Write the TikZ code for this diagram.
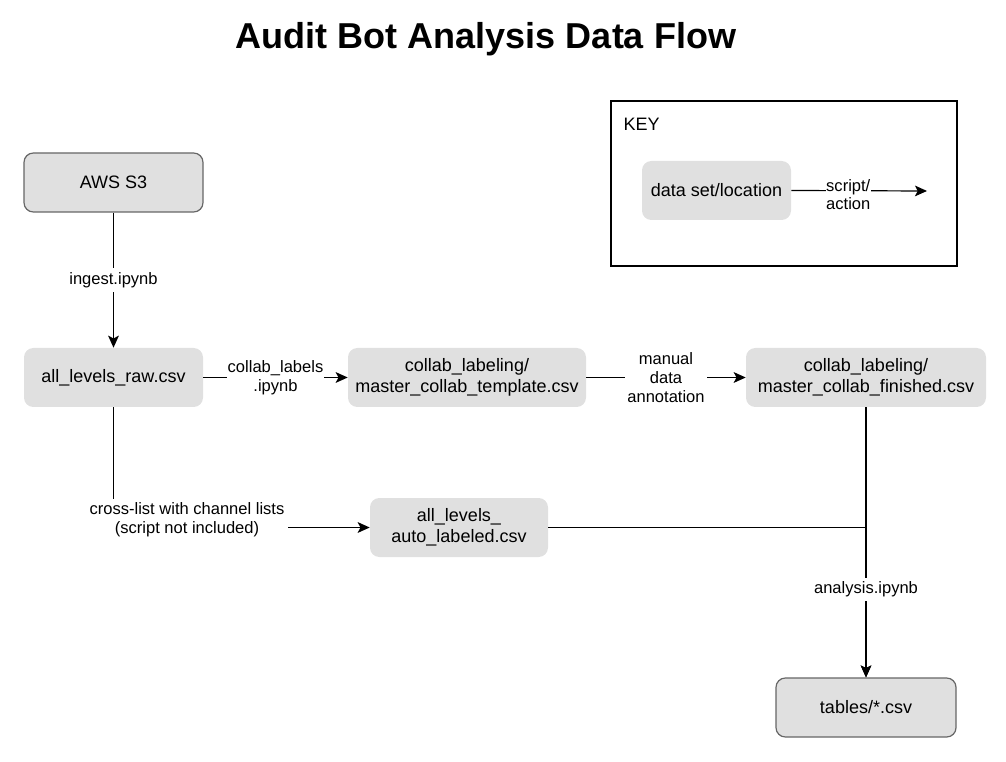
\documentclass[tikz,border=0pt]{standalone}
\usepackage{fontspec}
\setmainfont{Liberation Sans}
\usetikzlibrary{arrows.meta,calc}
\definecolor{boxfill}{HTML}{E0E0E0}
\definecolor{boxline}{HTML}{666666}
\tikzset{
  dataset/.style={rounded corners=7pt, fill=boxfill, draw=none, align=center,
    inner sep=0pt, minimum height=44.25pt, font=\fontsize{13.5}{16}\selectfont},
  framed/.style={dataset, draw=boxline, line width=0.9pt},
  flow/.style={line width=0.9pt, -{Stealth[length=9pt,width=8pt,inset=2pt]}},
  plain/.style={line width=0.9pt},
  elabel/.style={fill=white, align=center, inner sep=1pt,
    font=\fontsize{12.4}{14}\selectfont},
  keyframe/.style={draw=black, line width=1pt},
}
\begin{document}
\begin{tikzpicture}[x=0.75pt,y=-0.75pt]
\useasboundingbox (0,0) rectangle (1006,762);
% title
\node[font=\fontsize{27}{32}\bfseries] (title) at (486,39) {Audit Bot Analysis Data Flow};
% key
\draw[keyframe] (611,101) rectangle (957,266);
\node[anchor=west, font=\fontsize{13.5}{16}\selectfont] (keytitle) at (619,124) {KEY};
\node[dataset, minimum width=111.75pt] (keynode) at (716.5,190.5) {data set/location};
\coordinate (keyend) at (927,191);
\draw[flow] (keynode.east) -- node[elabel, pos=0.42, yshift=-3pt, align=left, inner sep=0.5pt] (keylabel) {script/\\action} (keyend);
% nodes
\node[framed, minimum width=134.25pt] (aws) at (113.5,182.5) {AWS S3};
\node[dataset, minimum width=134.25pt] (raw) at (113.5,377.5) {all\_levels\_raw.csv};
\node[dataset, minimum width=178.5pt] (tmpl) at (467,377.5) {collab\_labeling/\\master\_collab\_template.csv};
\node[dataset, minimum width=180pt] (fin) at (866,377.5) {collab\_labeling/\\master\_collab\_finished.csv};
\node[dataset, minimum width=133.5pt] (auto) at (459,527.5) {all\_levels\_\\auto\_labeled.csv};
\node[framed, minimum width=135pt] (tables) at (866,707.5) {tables/*.csv};
% connectors
\draw[flow] (aws) -- node[elabel, inner sep=3pt] (l1) {ingest.ipynb} (raw);
\draw[flow] (raw) -- node[elabel, inner sep=0.3pt] (l2) {collab\_labels\\.ipynb} (tmpl);
\draw[flow] (tmpl) -- node[elabel, inner sep=1.5pt] (l3) {manual\\data\\annotation} (fin);
\draw[flow] (raw.south) |- (auto.west);
\node[elabel, inner sep=3pt] (l4) at (187,520) {cross-list with channel lists\\(script not included)};
\draw[flow] (auto.east) -| (tables.north);
\draw[flow] (fin.south) -- node[elabel, pos=0.675, inner sep=3pt] (l5) {analysis.ipynb} (tables.north);
\end{tikzpicture}
\end{document}
